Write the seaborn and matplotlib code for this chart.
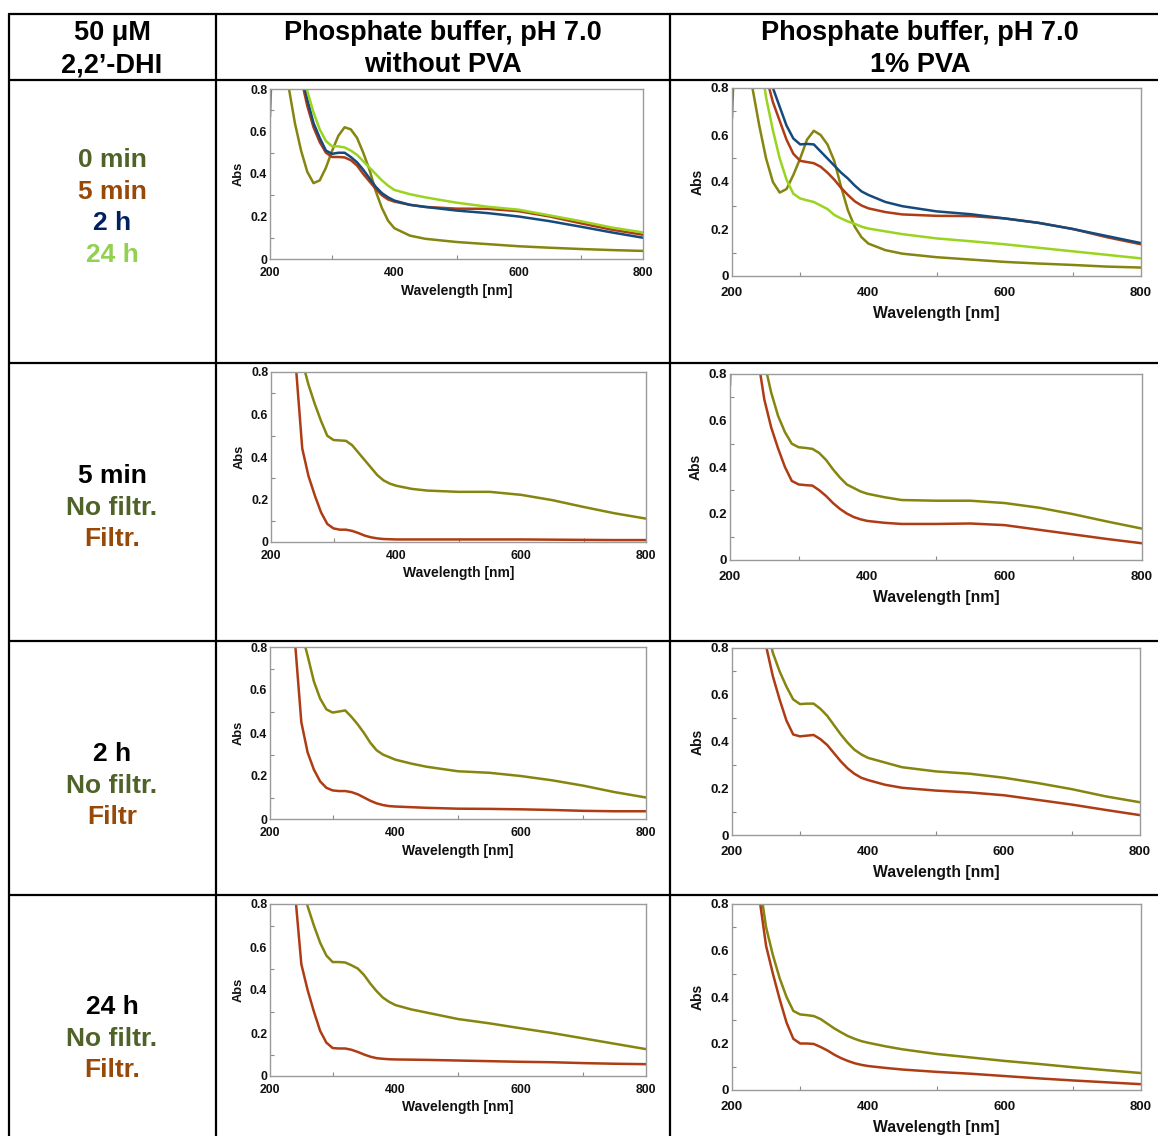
import matplotlib
matplotlib.use("Agg")
import matplotlib.pyplot as plt
from matplotlib.lines import Line2D
from matplotlib.ticker import MultipleLocator
import seaborn as sns

# Colours
OLIVE = "#85850f"
RUST = "#ae3c14"
NAVY = "#154a7c"
LIME = "#99d41e"
TXT_OLIVE = "#4f6228"
TXT_BROWN = "#984807"
TXT_NAVY = "#002060"
TXT_LIME = "#92d050"

# Wavelength grid (nm) shared by all spectra
WL = [200, 210, 220, 230, 240, 250, 260, 270, 280, 290, 300, 310, 320, 330, 340,
      350, 360, 370, 380, 390, 400, 425, 450, 500, 550, 600, 650, 700, 750, 800]

# Row 1, no PVA: 0 min, 5 min, 2 h, 24 h
R1L_0MIN = [0.67, 1.5, 1.1, 0.81, 0.64, 0.51, 0.41, 0.357, 0.37, 0.43, 0.51, 0.58, 0.62, 0.61, 0.57,
            0.5, 0.42, 0.32, 0.24, 0.18, 0.145, 0.11, 0.095, 0.08, 0.07, 0.06, 0.053, 0.047, 0.042, 0.038]
R1L_5MIN = [2.0, 1.8, 1.5, 1.2, 0.98, 0.85, 0.72, 0.62, 0.55, 0.5, 0.48, 0.48, 0.478, 0.465, 0.44,
            0.4, 0.365, 0.33, 0.3, 0.28, 0.27, 0.255, 0.245, 0.237, 0.236, 0.225, 0.2, 0.168, 0.138, 0.114]
R1L_2H = [2.0, 1.8, 1.5, 1.2, 1.0, 0.88, 0.75, 0.64, 0.57, 0.51, 0.495, 0.5, 0.5, 0.48, 0.455,
          0.42, 0.38, 0.34, 0.31, 0.29, 0.275, 0.255, 0.245, 0.228, 0.216, 0.2, 0.178, 0.152, 0.125, 0.1]
R1L_24H = [2.0, 1.8, 1.5, 1.2, 1.05, 0.92, 0.79, 0.69, 0.61, 0.555, 0.53, 0.53, 0.525, 0.51, 0.49,
           0.46, 0.43, 0.4, 0.37, 0.345, 0.325, 0.305, 0.29, 0.265, 0.246, 0.232, 0.205, 0.178, 0.148, 0.125]

# Row 1, 1% PVA
R1R_0MIN = [0.67, 1.5, 1.1, 0.8, 0.64, 0.5, 0.4, 0.355, 0.37, 0.43, 0.5, 0.58, 0.618, 0.6, 0.56,
            0.49, 0.38, 0.28, 0.21, 0.165, 0.138, 0.11, 0.095, 0.08, 0.07, 0.06, 0.053, 0.047, 0.04, 0.036]
R1R_5MIN = [0.75, 1.6, 1.5, 1.3, 1.05, 0.85, 0.74, 0.66, 0.58, 0.52, 0.49, 0.485, 0.48, 0.465, 0.44,
            0.41, 0.375, 0.345, 0.318, 0.3, 0.288, 0.272, 0.262, 0.256, 0.255, 0.245, 0.226, 0.2, 0.165, 0.135]
R1R_2H = [2.0, 1.8, 1.5, 1.2, 1.05, 0.93, 0.8, 0.72, 0.64, 0.585, 0.56, 0.562, 0.56, 0.53, 0.5,
          0.47, 0.44, 0.415, 0.385, 0.36, 0.345, 0.315, 0.297, 0.275, 0.263, 0.245, 0.226, 0.2, 0.17, 0.14]
R1R_24H = [2.0, 1.8, 1.5, 1.2, 0.95, 0.76, 0.62, 0.5, 0.41, 0.35, 0.33, 0.322, 0.315, 0.3, 0.285,
           0.26, 0.245, 0.232, 0.222, 0.21, 0.202, 0.19, 0.178, 0.16, 0.148, 0.135, 0.12, 0.105, 0.09, 0.075]

# Rows 2-4: no filtration / filtration
R2L_NOF = [2.0, 1.8, 1.5, 1.2, 1.0, 0.85, 0.74, 0.65, 0.57, 0.5, 0.48, 0.478, 0.476, 0.455, 0.42,
           0.385, 0.35, 0.315, 0.29, 0.275, 0.265, 0.25, 0.242, 0.236, 0.236, 0.222, 0.197, 0.165, 0.135, 0.11]
R2L_FIL = [2.0, 1.8, 1.5, 1.15, 0.82, 0.44, 0.31, 0.22, 0.14, 0.085, 0.064, 0.058, 0.058, 0.052, 0.042,
           0.03, 0.022, 0.017, 0.014, 0.013, 0.012, 0.012, 0.012, 0.012, 0.012, 0.012, 0.011, 0.01, 0.009, 0.009]
R2R_NOF = [0.75, 1.6, 1.5, 1.3, 1.05, 0.85, 0.72, 0.62, 0.55, 0.5, 0.485, 0.482, 0.478, 0.46, 0.43,
           0.39, 0.355, 0.325, 0.31, 0.295, 0.285, 0.27, 0.258, 0.255, 0.255, 0.245, 0.225, 0.197, 0.165, 0.135]
R2R_FIL = [2.0, 1.8, 1.5, 1.15, 0.88, 0.69, 0.57, 0.48, 0.4, 0.34, 0.325, 0.322, 0.32, 0.3, 0.275,
           0.245, 0.22, 0.2, 0.185, 0.175, 0.168, 0.16, 0.155, 0.155, 0.157, 0.15, 0.13, 0.11, 0.09, 0.072]

R3L_NOF = [2.0, 1.8, 1.5, 1.2, 1.05, 0.87, 0.76, 0.64, 0.56, 0.51, 0.495, 0.5, 0.505, 0.475, 0.44,
           0.4, 0.355, 0.32, 0.3, 0.288, 0.276, 0.258, 0.243, 0.222, 0.215, 0.2, 0.18, 0.155, 0.125, 0.1]
R3L_FIL = [2.0, 1.8, 1.5, 1.15, 0.82, 0.45, 0.31, 0.23, 0.175, 0.145, 0.133, 0.13, 0.13, 0.125, 0.115,
           0.1, 0.085, 0.073, 0.065, 0.06, 0.058, 0.055, 0.052, 0.048, 0.047, 0.045, 0.042, 0.038, 0.036, 0.036]
R3R_NOF = [2.0, 1.8, 1.5, 1.25, 1.1, 0.9, 0.78, 0.7, 0.635, 0.58, 0.56, 0.562, 0.562, 0.54, 0.51,
           0.47, 0.43, 0.395, 0.365, 0.345, 0.33, 0.31, 0.29, 0.272, 0.262, 0.245, 0.222, 0.196, 0.165, 0.14]
R3R_FIL = [2.0, 1.8, 1.5, 1.2, 1.0, 0.81, 0.68, 0.58, 0.49, 0.43, 0.422, 0.425, 0.428, 0.41, 0.385,
           0.35, 0.315, 0.285, 0.262, 0.245, 0.235, 0.215, 0.202, 0.19, 0.182, 0.17, 0.15, 0.13, 0.107, 0.085]

R4L_NOF = [2.0, 1.8, 1.5, 1.25, 1.08, 0.9, 0.79, 0.7, 0.62, 0.56, 0.53, 0.53, 0.528, 0.515, 0.5,
           0.47, 0.43, 0.395, 0.365, 0.345, 0.33, 0.31, 0.295, 0.265, 0.245, 0.222, 0.2, 0.175, 0.15, 0.125]
R4L_FIL = [2.0, 1.8, 1.5, 1.2, 0.85, 0.52, 0.4, 0.3, 0.21, 0.155, 0.13, 0.128, 0.128, 0.122, 0.112,
           0.1, 0.09, 0.083, 0.08, 0.078, 0.077, 0.076, 0.075, 0.072, 0.069, 0.066, 0.064, 0.06, 0.057, 0.055]
R4R_NOF = [2.0, 1.8, 1.5, 1.2, 0.9, 0.7, 0.58, 0.48, 0.4, 0.34, 0.325, 0.322, 0.318, 0.305, 0.285,
           0.265, 0.248, 0.232, 0.22, 0.21, 0.203, 0.188, 0.175, 0.155, 0.14, 0.125, 0.112, 0.098, 0.085, 0.073]
R4R_FIL = [2.0, 1.8, 1.5, 1.1, 0.83, 0.62, 0.5, 0.39, 0.29, 0.22, 0.2, 0.2, 0.198, 0.185, 0.17,
           0.152, 0.137, 0.125, 0.115, 0.108, 0.103, 0.095, 0.088, 0.078, 0.07, 0.06, 0.05, 0.041, 0.033, 0.025]

HEADERS = ["50 \u03bcM\n2,2\u2019-DHI", "Phosphate buffer, pH 7.0\nwithout PVA", "Phosphate buffer, pH 7.0\n1% PVA"]
ROW_LABELS = [
    [("0 min", TXT_OLIVE), ("5 min", TXT_BROWN), ("2 h", TXT_NAVY), ("24 h", TXT_LIME)],
    [("5 min", "black"), ("No filtr.", TXT_OLIVE), ("Filtr.", TXT_BROWN)],
    [("2 h", "black"), ("No filtr.", TXT_OLIVE), ("Filtr", TXT_BROWN)],
    [("24 h", "black"), ("No filtr.", TXT_OLIVE), ("Filtr.", TXT_BROWN)],
]
ROW_LABEL_Y = [160, 476, 754, 1007]  # pixel y of first label line

# panels: (x0, x1, ytop, ybot) in pixels, curves, small (left column) or large font
PANELS = [
    ((270, 643, 89, 259), [(R1L_0MIN, OLIVE), (R1L_5MIN, RUST), (R1L_2H, NAVY), (R1L_24H, LIME)], False),
    ((732, 1141, 88, 276), [(R1R_0MIN, OLIVE), (R1R_5MIN, RUST), (R1R_2H, NAVY), (R1R_24H, LIME)], True),
    ((271, 646, 372, 542), [(R2L_NOF, OLIVE), (R2L_FIL, RUST)], False),
    ((730, 1142, 374, 560), [(R2R_NOF, OLIVE), (R2R_FIL, RUST)], True),
    ((270, 646, 647, 819), [(R3L_NOF, OLIVE), (R3L_FIL, RUST)], False),
    ((732, 1140, 648, 835), [(R3R_NOF, OLIVE), (R3R_FIL, RUST)], True),
    ((270, 646, 904, 1076), [(R4L_NOF, OLIVE), (R4L_FIL, RUST)], False),
    ((732, 1141, 904, 1090), [(R4R_NOF, OLIVE), (R4R_FIL, RUST)], True),
]

W, H = 1158, 1136

sns.set_theme(style="white")
plt.rcParams["font.family"] = ["Liberation Sans", "DejaVu Sans"]

fig = plt.figure(figsize=(W / 100, H / 100), dpi=100)
fig.patch.set_facecolor("white")


def fx(px):
    return px / W


def fy(py):
    return 1 - py / H


# table grid
def hline(y, x0=9, x1=W):
    fig.add_artist(Line2D([fx(x0), fx(x1)], [fy(y), fy(y)], color="black", lw=1.6))


def vline(x, y0=14, y1=H):
    fig.add_artist(Line2D([fx(x), fx(x)], [fy(y0), fy(y1)], color="black", lw=1.6))


for y in [14, 80, 363, 641, 895]:
    hline(y)
for x in [9, 216, 670]:
    vline(x)

# headers
for text, xc in zip(HEADERS, [112, 443, 920]):
    fig.text(fx(xc), fy(49.5), text, ha="center", va="center", fontsize=19.5,
             fontweight="bold", linespacing=1.3, color="black")

# left column labels
for labels, y0 in zip(ROW_LABELS, ROW_LABEL_Y):
    for i, (txt, col) in enumerate(labels):
        fig.text(fx(112), fy(y0 + i * 31.7), txt, ha="center", va="center",
                 fontsize=19, fontweight="bold", color=col)

# spectra
for (x0, x1, ytop, ybot), curves, big in PANELS:
    fs = 9.5 if big else 8.8
    ax = fig.add_axes([fx(x0), fy(ybot), (x1 - x0) / W, (ybot - ytop) / H])
    for vals, col in curves:
        sns.lineplot(x=WL, y=vals, ax=ax, color=col, lw=1.8, sort=False,
                     estimator=None, solid_joinstyle="round")
    ax.set_xlim(200, 800)
    ax.set_ylim(0, 0.8)
    ax.xaxis.set_major_locator(MultipleLocator(200))
    ax.xaxis.set_minor_locator(MultipleLocator(100))
    ax.yaxis.set_minor_locator(MultipleLocator(0.1))
    ax.set_yticks([0, 0.2, 0.4, 0.6, 0.8])
    ax.set_yticklabels(["0", "0.2", "0.4", "0.6", "0.8"])
    ax.tick_params(which="both", direction="in", color="#8a8a8a", width=0.8,
                   bottom=True, left=True, top=False, right=False)
    ax.tick_params(which="major", length=0, labelsize=fs, labelcolor="#111111")
    ax.tick_params(axis="x", which="major", pad=8 if big else 6)
    ax.tick_params(axis="y", which="major", pad=2)
    ax.tick_params(which="minor", length=3)
    for lab in ax.get_xticklabels() + ax.get_yticklabels():
        lab.set_fontweight("bold")
    for sp in ax.spines.values():
        sp.set_color("#9a9a9a")
        sp.set_linewidth(1.0)
    ax.set_xlabel("Wavelength [nm]", fontsize=fs + (1.8 if big else 1.2), fontweight="bold",
                  color="#111111", labelpad=5 if big else 3)
    ax.set_ylabel("Abs", fontsize=fs + 0.5, fontweight="bold", color="#111111", labelpad=4)
    ax.set_facecolor("white")

fig.savefig("out.png", dpi=100, facecolor="white")
